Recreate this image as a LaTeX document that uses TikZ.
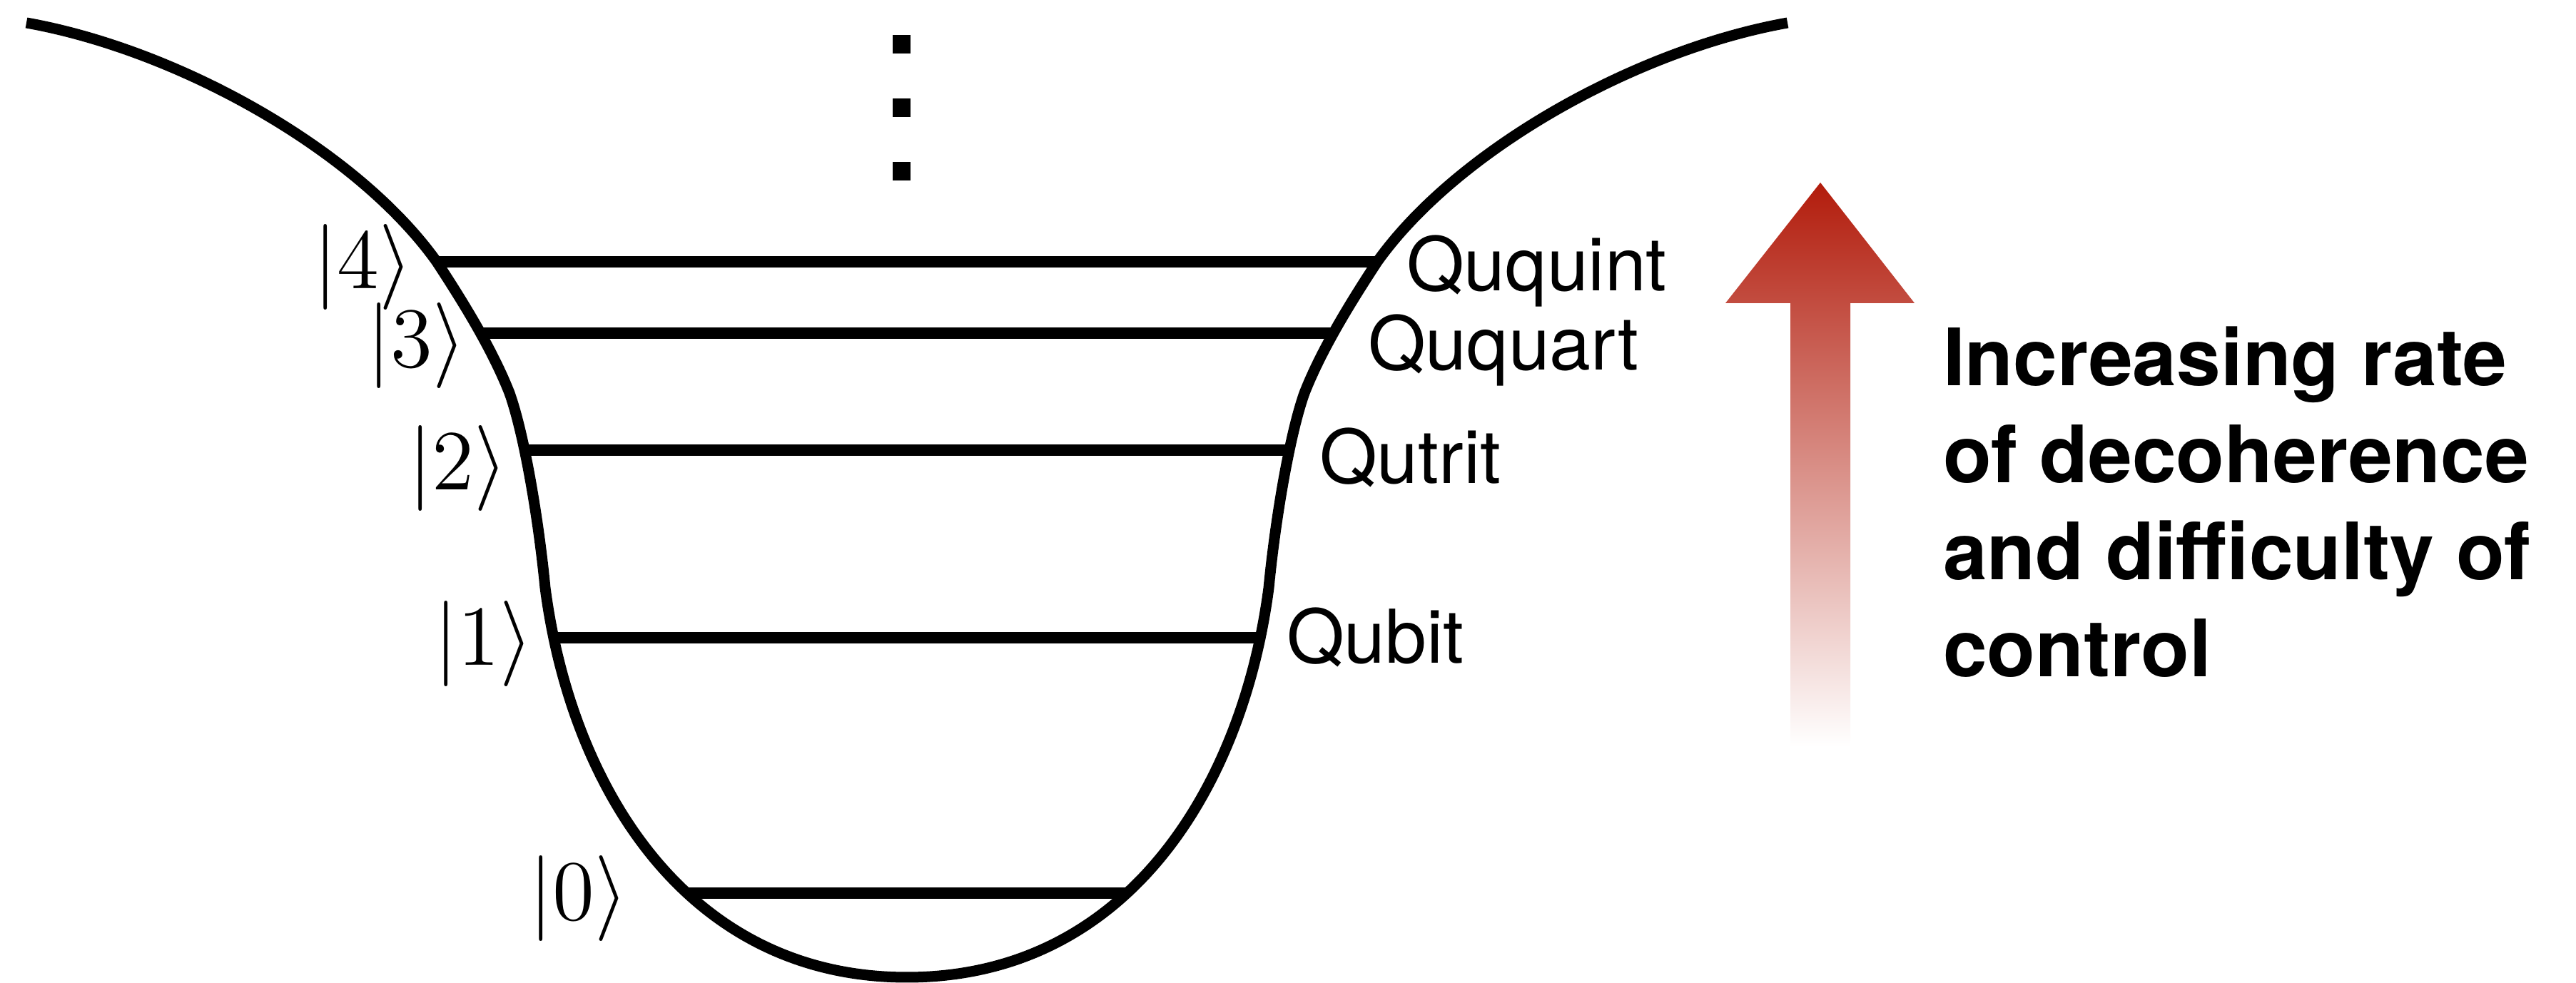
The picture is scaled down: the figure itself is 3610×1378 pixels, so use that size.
\documentclass[tikz,border=0pt]{standalone}
\usepackage{amsmath}
\usepackage{fontspec}
\setsansfont{TeX Gyre Heros}
\usetikzlibrary{positioning}

\definecolor{arrowred}{RGB}{178,28,12}

\begin{document}
\begin{tikzpicture}[x=0.1pt,y=0.1pt,yscale=-1,xscale=1,
  well/.style={line width=1.5pt},
  levelline/.style={line width=1.6pt},
  ket/.style={inner sep=0pt,font=\fontsize{12.2}{14}\selectfont},
  qudit/.style={inner sep=0pt,anchor=base west,font=\sffamily\fontsize{10.4}{12}\selectfont}]
 \useasboundingbox (0,0) rectangle (3610,1378);

 % the well, left half then right half
 \draw[well] (37,32) .. controls (250,70) and (500,210) .. (612,367)
   .. controls (650,425) and (690,490) .. (714,551)
   .. controls (735,610) and (755,730) .. (764,824)
   .. controls (800,1100) and (960,1370) .. (1271,1370)
   .. controls (1582,1370) and (1742,1100) .. (1778,824)
   .. controls (1787,730) and (1807,610) .. (1828,551)
   .. controls (1852,490) and (1892,425) .. (1930,367)
   .. controls (2042,210) and (2292,70) .. (2505,32);

 % energy levels
 \foreach \n/\xl/\xr/\y in {0/962/1580/1252, 1/782/1760/894, 2/731/1811/631, 3/673/1869/467, 4/612/1930/367}{
   \coordinate (w\n) at (\xl,\y);
   \coordinate (e\n) at (\xr,\y);
   \draw[levelline] (w\n) -- (e\n);
 }

 % vertical dots
 \foreach \y in {62,151,240}
   \fill (1251,\y-13) rectangle (1276,\y+13);

 \node[ket] (k0) at (811,1260) {$|0\rangle$};
 \node[ket] (k1) at (678,903) {$|1\rangle$};
 \node[ket] (k2) at (642,657) {$|2\rangle$};
 \node[ket] (k3) at (584,485) {$|3\rangle$};
 \node[ket] (k4) at (509,375) {$|4\rangle$};

 \node[qudit] (qubit) at (1801,930) {Qubit};
 \node[qudit] (qutrit) at (1847,678) {Qutrit};
 \node[qudit] (ququart) at (1915,519) {Ququart};
 \node[qudit] (ququint) at (1969,408) {Ququint};

 % fading arrow
 \shade[top color=arrowred, bottom color=white] (2551,256) -- (2683,425) -- (2593,425) -- (2593,1047) -- (2509,1047) -- (2509,425) -- (2418,425) -- cycle;

 \node[anchor=base west, align=left, inner sep=0pt, font=\sffamily\bfseries\fontsize{11.1}{13.6}\selectfont] (rate) at (2721,949) {Increasing rate\\of decoherence\\and difficulty of\\control};
\end{tikzpicture}
\end{document}
